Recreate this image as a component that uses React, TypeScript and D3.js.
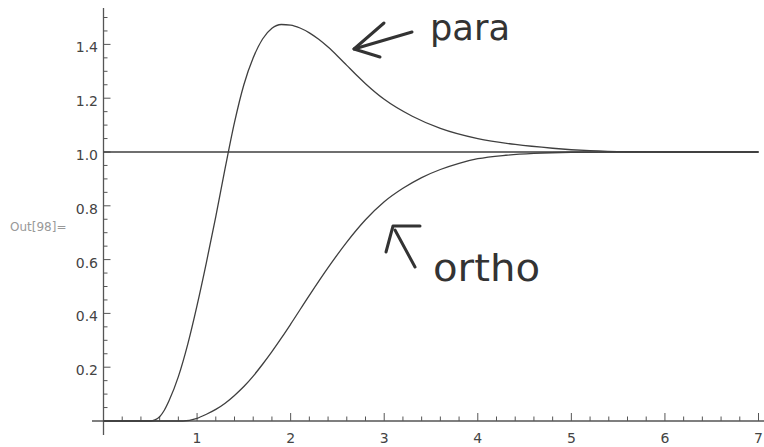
import React from "react";
import * as d3 from "d3";

const paraX = [0, 0.5, 0.55, 0.6, 0.65, 0.7, 0.8, 0.9, 1.0, 1.1, 1.2, 1.3, 1.4, 1.5, 1.6, 1.7, 1.8, 1.9, 2.0, 2.1, 2.2, 2.3, 2.4, 2.5, 2.6, 2.7, 2.8, 3.0, 3.3, 3.6, 4.0, 4.4, 4.8, 5.2, 5.6, 6, 7];
const paraY = [0, 0, 0.004, 0.016, 0.04, 0.075, 0.165, 0.285, 0.43, 0.59, 0.76, 0.94, 1.11, 1.25, 1.35, 1.42, 1.46, 1.474, 1.472, 1.461, 1.443, 1.419, 1.39, 1.357, 1.322, 1.287, 1.254, 1.196, 1.133, 1.088, 1.05, 1.028, 1.014, 1.005, 1.001, 1.0, 1.0];

const orthoX = [0, 0.85, 1.0, 1.1, 1.2, 1.3, 1.4, 1.5, 1.6, 1.7, 1.8, 1.9, 2.0, 2.2, 2.4, 2.6, 2.8, 3.0, 3.2, 3.4, 3.6, 3.8, 4.0, 4.3, 4.6, 5.0, 5.5, 7];
const orthoY = [0, 0, 0.01, 0.025, 0.043, 0.066, 0.095, 0.128, 0.167, 0.211, 0.258, 0.308, 0.36, 0.467, 0.57, 0.665, 0.748, 0.815, 0.865, 0.905, 0.935, 0.958, 0.975, 0.988, 0.995, 0.999, 1.0, 1.0];

const refX = [0, 7];
const refY = [1, 1];

const xMajor = [1, 2, 3, 4, 5, 6, 7];
const yMajor = [0.2, 0.4, 0.6, 0.8, 1.0, 1.2, 1.4];
const yLabels = ["0.2", "0.4", "0.6", "0.8", "1.0", "1.2", "1.4"];

export default function App() {
  const W = 764, H = 447;
  const x = d3.scaleLinear().domain([0, 7]).range([103.5, 758.5]);
  const y = d3.scaleLinear().domain([0, 1.5]).range([421, 17.5]);

  const line = d3
    .line<[number, number]>()
    .x((d) => x(d[0]))
    .y((d) => y(d[1]))
    .curve(d3.curveMonotoneX);

  const para = line(paraX.map((v, i) => [v, paraY[i]] as [number, number])) || "";
  const ortho = line(orthoX.map((v, i) => [v, orthoY[i]] as [number, number])) || "";
  const ref = line(refX.map((v, i) => [v, refY[i]] as [number, number])) || "";

  const xMinor = d3.range(1, 36).map((i) => i * 0.2).filter((v) => Math.abs(v - Math.round(v)) > 1e-6);
  const yMinor = d3.range(1, 31).map((i) => i * 0.05).filter((v) => Math.abs(v * 5 - Math.round(v * 5)) > 1e-6);

  const axisColor = "#555";
  const curveColor = "#3f3f3f";
  const ink = "#333";

  return (
    <svg width={W} height={H} style={{ position: "absolute", left: 0, top: 0, background: "#fff" }}>
      <rect x={0} y={0} width={W} height={H} fill="#fff" />
      {/* axes */}
      <line x1={92} x2={764} y1={y(0)} y2={y(0)} stroke={axisColor} strokeWidth={1.3} />
      <line x1={x(0)} x2={x(0)} y1={435} y2={8} stroke={axisColor} strokeWidth={1.3} />
      {/* x ticks */}
      {xMajor.map((v) => (
        <line key={"xM" + v} x1={x(v)} x2={x(v)} y1={y(0)} y2={y(0) - 8} stroke={axisColor} strokeWidth={1} />
      ))}
      {xMinor.map((v) => (
        <line key={"xm" + v} x1={x(v)} x2={x(v)} y1={y(0)} y2={y(0) - 4.5} stroke={axisColor} strokeWidth={1} />
      ))}
      {xMajor.map((v) => (
        <text key={"xl" + v} x={x(v)} y={443} textAnchor="middle" fontFamily="DejaVu Sans, sans-serif" fontSize={14} fill="#444">
          {v}
        </text>
      ))}
      {/* y ticks */}
      {yMajor.map((v) => (
        <line key={"yM" + v} x1={x(0)} x2={x(0) + 7} y1={y(v)} y2={y(v)} stroke={axisColor} strokeWidth={1} />
      ))}
      {yMinor.map((v) => (
        <line key={"ym" + v} x1={x(0)} x2={x(0) + 4} y1={y(v)} y2={y(v)} stroke={axisColor} strokeWidth={1} />
      ))}
      {yMajor.map((v, i) => (
        <text key={"yl" + v} x={98} y={y(v) + 8} textAnchor="end" fontFamily="DejaVu Sans, sans-serif" fontSize={14} fill="#444">
          {yLabels[i]}
        </text>
      ))}
      <text x={10} y={231} fontFamily="DejaVu Sans, sans-serif" fontSize={12} fill="#999">
        Out[98]=
      </text>
      {/* curves */}
      <path d={ref} fill="none" stroke={curveColor} strokeWidth={1.4} />
      <path d={ortho} fill="none" stroke={curveColor} strokeWidth={1.3} />
      <path d={para} fill="none" stroke={curveColor} strokeWidth={1.3} />
      {/* handwritten annotations */}
      <g stroke={ink} strokeWidth={3} fill="none" strokeLinecap="round" strokeLinejoin="round">
        <path d="M412,32 L354,49" />
        <path d="M384,23 L354,49 L380,57" />
        <path d="M420,226 L393,226 L386,252" />
        <path d="M395,230 L415,267" />
      </g>
      <text x={430} y={40} fontFamily="DejaVu Sans, sans-serif" fontSize={36} fill={ink} textLength={80} lengthAdjust="spacingAndGlyphs">
        para
      </text>
      <text x={433} y={281} fontFamily="DejaVu Sans, sans-serif" fontSize={38} fill={ink} textLength={107} lengthAdjust="spacingAndGlyphs">
        ortho
      </text>
    </svg>
  );
}
